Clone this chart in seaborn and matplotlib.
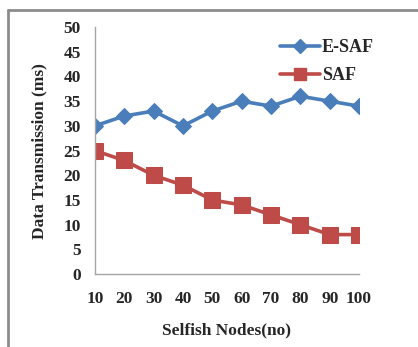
import matplotlib
matplotlib.use("Agg")
import matplotlib.pyplot as plt
from matplotlib.lines import Line2D
import seaborn as sns
import pandas as pd

selfish_nodes = [10, 20, 30, 40, 50, 60, 70, 80, 90, 100]
esaf = [30, 32, 33, 30, 33, 35, 34, 36, 35, 34]
saf = [25, 23, 20, 18, 15, 14, 12, 10, 8, 8]
series_names = ["E-SAF", "SAF"]
y_ticks = [0, 5, 10, 15, 20, 25, 30, 35, 40, 45, 50]

df = pd.DataFrame({
    "Selfish Nodes": selfish_nodes * 2,
    "Data Transmission": esaf + saf,
    "Scheme": [series_names[0]] * len(esaf) + [series_names[1]] * len(saf),
})

sns.set_style("white")
plt.rcParams["font.family"] = ["Liberation Serif", "DejaVu Serif"]
plt.rcParams["font.weight"] = "bold"

palette = {"E-SAF": "#4a7ebb", "SAF": "#be4b48"}
markers = {"E-SAF": "D", "SAF": "s"}
sizes = {"E-SAF": 8, "SAF": 11}

fig = plt.figure(figsize=(4.18, 3.47), dpi=100)
ax = fig.add_axes([0.227, 0.21, 0.632, 0.712])

for name in series_names:
    sub = df[df["Scheme"] == name]
    sns.lineplot(data=sub, x="Selfish Nodes", y="Data Transmission",
                 color=palette[name], marker=markers[name],
                 markersize=sizes[name], markeredgecolor=palette[name],
                 linewidth=2.6, ax=ax, legend=False)

ax.set_xlim(10, 100)
ax.set_ylim(0, 50)
ax.set_xticks(selfish_nodes)
ax.set_yticks(y_ticks)
ax.tick_params(axis="both", length=0, labelsize=12.5)
ax.tick_params(axis="x", pad=12)
ax.tick_params(axis="y", pad=10)
for lbl in ax.get_xticklabels() + ax.get_yticklabels():
    lbl.set_fontweight("bold")

for side in ["top", "right"]:
    ax.spines[side].set_visible(False)
for side in ["left", "bottom"]:
    ax.spines[side].set_color("#a6a6a6")
    ax.spines[side].set_linewidth(1.0)

ax.set_xlabel("Selfish Nodes(no)", fontsize=12.5, fontweight="bold", labelpad=11)
ax.set_ylabel("Data Transmission (ms)", fontsize=12.5, fontweight="bold", labelpad=12)

handles = [Line2D([], [], color=palette[n], marker=markers[n],
                  markersize=sizes[n] * 0.85, linewidth=2.6) for n in series_names]
leg = ax.legend(handles, series_names, loc="upper left",
                bbox_to_anchor=(0.632, 0.934), bbox_transform=fig.transFigure,
                frameon=False, handlelength=2.2, handletextpad=0.1,
                labelspacing=0.6, prop={"size": 13, "weight": "bold"})

# outer frame around the figure (top and left edges)
fig.add_artist(Line2D([0.018, 1.0], [0.971, 0.971], color="#8c8c8c", linewidth=2,
                      transform=fig.transFigure))
fig.add_artist(Line2D([0.018, 0.018], [0.0, 0.971], color="#8c8c8c", linewidth=2,
                      transform=fig.transFigure))

fig.savefig("out.png", dpi=100)
